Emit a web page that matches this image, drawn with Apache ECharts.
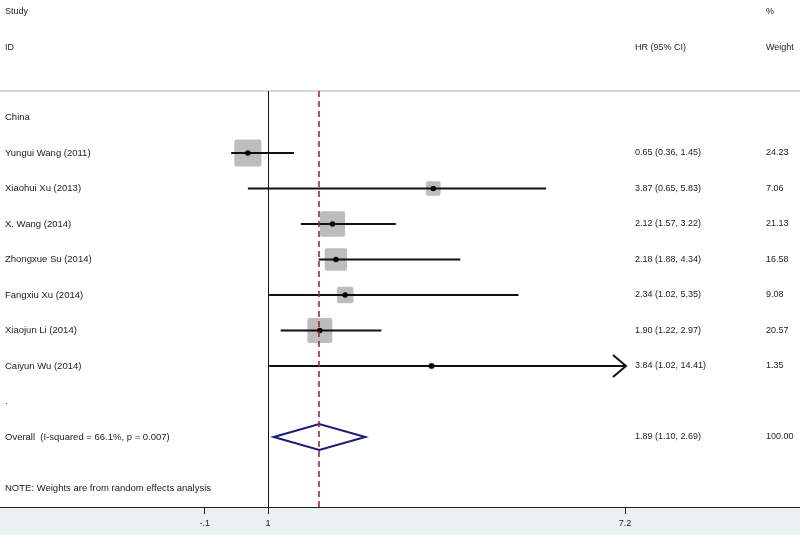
<!DOCTYPE html>
<html><head><meta charset="utf-8">
<script src="https://cdn.jsdelivr.net/npm/echarts@6/dist/echarts.min.js"></script>
<style>html,body{margin:0;padding:0;background:#fff}#c{width:800px;height:535px}</style>
</head><body><div id="c"></div>
<script>
// ---- data ----
const studies = ["Yungui Wang (2011)", "Xiaohui Xu (2013)", "X. Wang (2014)", "Zhongxue Su (2014)", "Fangxiu Xu (2014)", "Xiaojun Li (2014)", "Caiyun Wu (2014)"];
const hr = [0.65, 3.87, 2.12, 2.18, 2.34, 1.90, 3.84];
const ciLow = [0.36, 0.65, 1.57, 1.88, 1.02, 1.22, 1.02];
const ciHigh = [1.45, 5.83, 3.22, 4.34, 5.35, 2.97, 14.41];
const weights = [24.23, 7.06, 21.13, 16.58, 9.08, 20.57, 1.35];
const weightLabels = ["24.23", "7.06", "21.13", "16.58", "9.08", "20.57", "1.35"];
const groupLabel = "China";
const overallLabel = "Overall  (I-squared = 66.1%, p = 0.007)";
const overallHR = 1.89, overallLow = 1.10, overallHigh = 2.69;
const overallWeight = "100.00";
const noteLabel = "NOTE: Weights are from random effects analysis";
const xTicks = [-0.1, 1, 7.2];
const xTickLabels = ["-.1", "1", "7.2"];
const plotMax = 7.2;     // right limit of the plotted range (arrow beyond)
const nullLine = 1;

// ---- layout helpers ----
const FAM = '"Liberation Sans", Arial, sans-serif';
const FONT = '9px ' + FAM;
const FONT_L = '9.5px ' + FAM;
const TXT = '#222';
const W = 800, H = 535;
const gridTop = 91, gridBottom = 28;
const px1 = 268, px72 = 625;            // pixel positions of 1 and 7.2
const scale = (px72 - px1) / (7.2 - 1);
const xMin = 1 - px1 / scale, xMax = 1 + (W - px1) / scale;
const row0 = 117.5, rowStep = 35.5;
const yMin = (gridTop - row0) / rowStep, yMax = (H - gridBottom - row0) / rowStep;
const colStudy = 5, colHR = 635, colW = 766;

function fmt(v){ return v.toFixed(2); }
function txt(t, x, y, f){
  return {type:'text', style:{text:t, x:x, y:y, verticalAlign:'middle', align:'left', font:f || FONT, fill:TXT}};
}

const studyData = studies.map((s, i) => [i, i + 1]);

function renderStudy(params, api){
  const i = api.value(0), row = api.value(1);
  const c = api.coord([hr[i], row]);
  const lo = api.coord([ciLow[i], row]);
  const hi = api.coord([Math.min(ciHigh[i], plotMax), row]);
  const side = 5.5 * Math.sqrt(weights[i]);
  const ch = [
    {type:'rect', shape:{x:c[0]-side/2, y:c[1]-side/2, width:side, height:side, r:2}, style:{fill:'#bdbdbd'}},
    {type:'line', shape:{x1:lo[0], y1:lo[1], x2:hi[0], y2:hi[1]}, style:{stroke:'#111', lineWidth:2}},
    {type:'circle', shape:{cx:c[0], cy:c[1], r:2.7}, style:{fill:'#000'}}
  ];
  if (ciHigh[i] > plotMax){
    ch.push({type:'polyline', shape:{points:[[hi[0]-12, hi[1]-11],[hi[0]+1, hi[1]],[hi[0]-12, hi[1]+11]]}, style:{stroke:'#111', fill:null, lineWidth:2}});
  }
  ch.push(txt(studies[i], colStudy, c[1], FONT_L));
  ch.push(txt(fmt(hr[i]) + ' (' + fmt(ciLow[i]) + ', ' + fmt(ciHigh[i]) + ')', colHR, c[1]));
  ch.push(txt(weightLabels[i], colW, c[1]));
  return {type:'group', children:ch};
}

function renderOverall(params, api){
  const row = api.value(0);
  const c = api.coord([overallHR, row]);
  const lo = api.coord([overallLow, row]);
  const hi = api.coord([overallHigh, row]);
  return {type:'group', children:[
    {type:'polygon', shape:{points:[[lo[0], c[1]],[c[0], c[1]-13],[hi[0], c[1]],[c[0], c[1]+13]]}, style:{stroke:'#1b1b78', fill:null, lineWidth:2}},
    txt(overallLabel, colStudy, c[1], FONT_L),
    txt(fmt(overallHR) + ' (' + fmt(overallLow) + ', ' + fmt(overallHigh) + ')', colHR, c[1]),
    txt(overallWeight, colW, c[1])
  ]};
}

const textRows = [[0, groupLabel], [8, '.'], [10.44, noteLabel]];
function renderText(params, api){
  const r = textRows[params.dataIndex];
  const c = api.coord([0, r[0]]);
  return txt(r[1], colStudy, c[1], FONT_L);
}

const chart = echarts.init(document.getElementById('c'), null, {renderer:'canvas'});
chart.setOption({
  backgroundColor:'#fff',
  animation:false,
  graphic:[
    {type:'rect', left:0, bottom:0, z:-10, shape:{width:W, height:gridBottom}, style:{fill:'#eaf1f3'}},
    {type:'text', left:colStudy, top:7, style:{text:'Study', font:FONT, fill:TXT}},
    {type:'text', left:colStudy, top:43, style:{text:'ID', font:FONT, fill:TXT}},
    {type:'text', left:colHR, top:43, style:{text:'HR (95% CI)', font:FONT, fill:TXT}},
    {type:'text', left:colW, top:7, style:{text:'%', font:FONT, fill:TXT}},
    {type:'text', left:colW, top:43, style:{text:'Weight', font:FONT, fill:TXT}}
  ],
  grid:{left:0, right:0, top:gridTop, bottom:gridBottom, show:false},
  xAxis:[{
    type:'value', min:xMin, max:xMax, position:'bottom',
    splitLine:{show:false},
    axisLine:{show:true, onZero:false, lineStyle:{color:'#222', width:1}},
    axisTick:{show:true, customValues:xTicks, length:7, lineStyle:{color:'#222'}},
    axisLabel:{show:true, customValues:xTicks, margin:12, fontSize:9, color:TXT, fontFamily:FAM,
      formatter:(v) => { const k = xTicks.findIndex(t => Math.abs(t - v) < 1e-6); return k >= 0 ? xTickLabels[k] : ''; }}
  },{
    type:'value', min:xMin, max:xMax, position:'top',
    splitLine:{show:false}, axisTick:{show:false}, axisLabel:{show:false},
    axisLine:{show:true, onZero:false, lineStyle:{color:'#c8c8c8', width:1.5}}
  }],
  yAxis:{type:'value', min:yMin, max:yMax, inverse:true, show:false, splitLine:{show:false}},
  series:[
    {type:'custom', renderItem:renderStudy, data:studyData, clip:false, z:2},
    {type:'custom', renderItem:renderOverall, data:[[9]], clip:false, z:2},
    {type:'custom', renderItem:renderText, data:textRows.map(r => [r[0]]), clip:false, z:2},
    {type:'line', data:[], z:5, silent:true,
      markLine:{silent:true, symbol:['none','none'], label:{show:false}, animation:false,
        lineStyle:{color:'#111', width:1, type:'solid'},
        emphasis:{disabled:true},
        data:[{xAxis:nullLine}]}},
    {type:'line', data:[], z:5, silent:true,
      markLine:{silent:true, symbol:['none','none'], label:{show:false}, animation:false,
        lineStyle:{color:'#a02838', width:1.6, type:[6,4], opacity:1},
        emphasis:{disabled:true},
        data:[{xAxis:overallHR}]}}
  ]
});
</script></body></html>
